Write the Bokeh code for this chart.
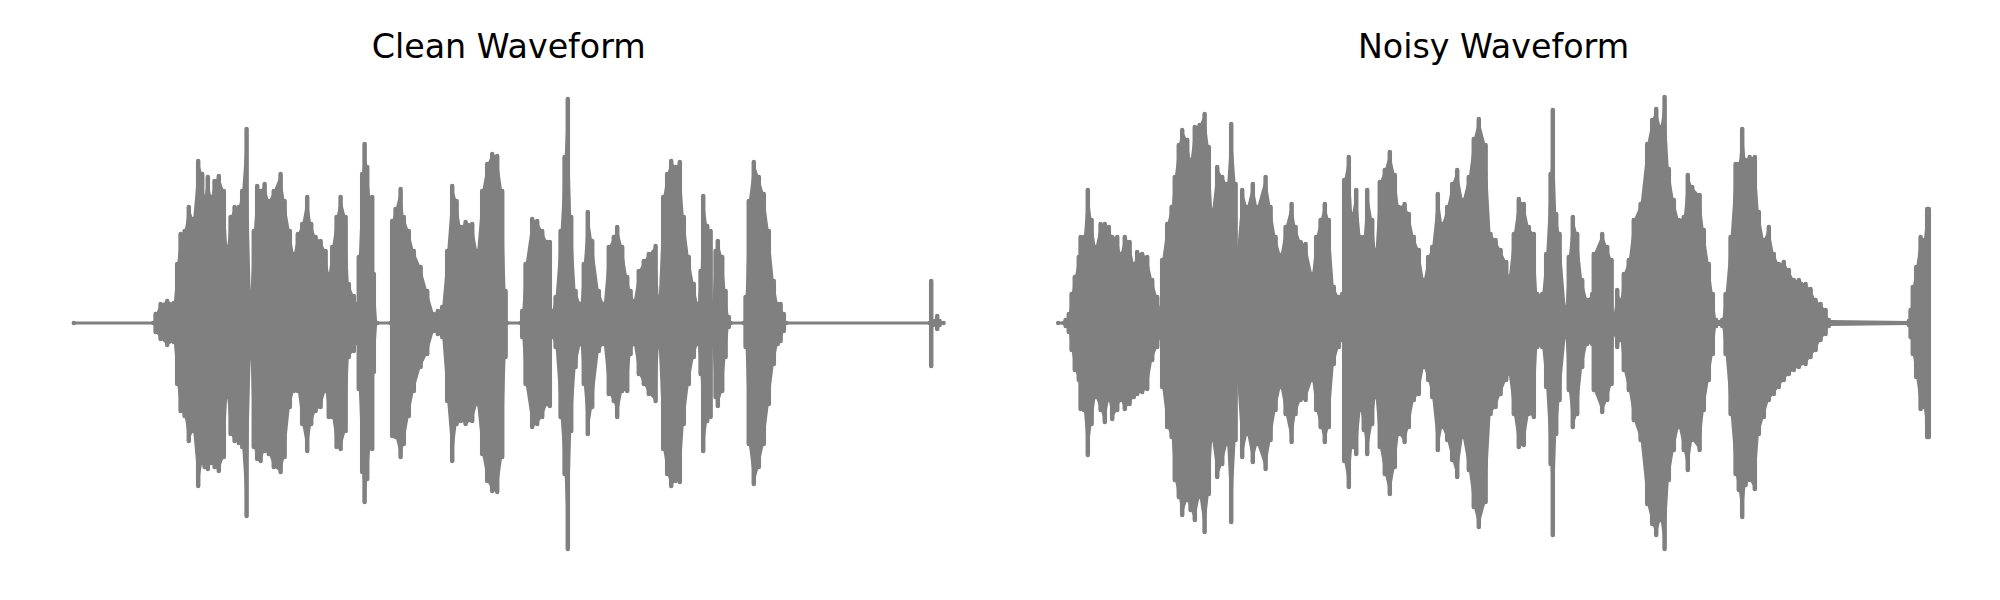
from bokeh.plotting import figure
from bokeh.layouts import row
from bokeh.models import Range1d, Label
from bokeh.embed import file_html
from bokeh.resources import INLINE

# ---------------- data: waveform envelopes (time in s, amplitude) ----------------
clean_t = [0.000, 0.397, 0.409, 0.434, 0.467, 0.500, 0.517, 0.534, 0.554, 0.575,
           0.597, 0.622, 0.642, 0.654, 0.670, 0.687, 0.704, 0.725, 0.750, 0.767,
           0.784, 0.804, 0.825, 0.842, 0.864, 0.884, 0.900, 0.917, 0.934, 0.954,
           0.975, 1.000, 1.034, 1.054, 1.080, 1.100, 1.120, 1.142, 1.167, 1.187,
           1.209, 1.234, 1.259, 1.275, 1.292, 1.314, 1.334, 1.359, 1.375, 1.400,
           1.417, 1.425, 1.442, 1.454, 1.467, 1.484, 1.492, 1.500, 1.517, 1.584,
           1.592, 1.609, 1.634, 1.650, 1.675, 1.700, 1.734, 1.767, 1.800, 1.820,
           1.842, 1.867, 1.892, 1.914, 1.934, 1.959, 1.992, 2.017, 2.042, 2.067,
           2.092, 2.117, 2.142, 2.159, 2.167, 2.234, 2.242, 2.259, 2.292, 2.317,
           2.342, 2.367, 2.380, 2.392, 2.409, 2.434, 2.454, 2.470, 2.487, 2.509,
           2.534, 2.550, 2.570, 2.592, 2.625, 2.650, 2.675, 2.700, 2.717, 2.742,
           2.767, 2.784, 2.800, 2.825, 2.850, 2.875, 2.909, 2.925, 2.947, 2.967,
           2.987, 3.009, 3.030, 3.050, 3.075, 3.100, 3.120, 3.134, 3.147, 3.167,
           3.184, 3.192, 3.209, 3.220, 3.242, 3.259, 3.275, 3.284, 3.349, 3.359,
           3.375, 3.400, 3.425, 3.450, 3.475, 3.500, 3.520, 3.534, 3.550, 3.564,
           4.280, 4.287, 4.294, 4.317, 4.329, 4.349]
clean_hi = [0, 0, 0.018, 0.038, 0.044, 0.040, 0.118, 0.178, 0.184, 0.232,
            0.208, 0.324, 0.298, 0.252, 0.292, 0.252, 0.284, 0.294, 0.264, 0.152,
            0.212, 0.232, 0.232, 0.264, 0.388, 0.064, 0.184, 0.274, 0.264, 0.278,
            0.244, 0.264, 0.298, 0.244, 0.184, 0.138, 0.178, 0.198, 0.252, 0.198,
            0.172, 0.164, 0.144, 0.098, 0.152, 0.212, 0.252, 0.212, 0.078, 0.054,
            0.038, 0.132, 0.298, 0.358, 0.312, 0.244, 0.252, 0.098, 0, 0,
            0.204, 0.228, 0.268, 0.212, 0.184, 0.144, 0.112, 0.064, 0.018, 0.024,
            0.032, 0.144, 0.274, 0.244, 0.192, 0.202, 0.198, 0.144, 0.264, 0.318,
            0.338, 0.334, 0.264, 0.064, 0, 0, 0.024, 0.118, 0.208, 0.204,
            0.184, 0.162, 0.162, 0.024, 0.052, 0.184, 0.332, 0.448, 0.212, 0.064,
            0.038, 0.118, 0.222, 0.164, 0.064, 0.038, 0.152, 0.172, 0.192, 0.152,
            0.092, 0.064, 0.044, 0.104, 0.124, 0.138, 0.154, 0.052, 0.252, 0.298,
            0.324, 0.312, 0.322, 0.212, 0.132, 0.078, 0.038, 0.104, 0.254, 0.194,
            0.184, 0.038, 0.144, 0.164, 0.132, 0.064, 0.012, 0, 0, 0.052,
            0.244, 0.322, 0.292, 0.258, 0.184, 0.084, 0.038, 0.038, 0.018, 0,
            0, 0.084, 0.004, 0.014, 0.004, 0]
clean_lo = [0, 0, -0.018, -0.032, -0.044, -0.038, -0.122, -0.176, -0.186, -0.236,
            -0.216, -0.326, -0.280, -0.288, -0.292, -0.280, -0.288, -0.296, -0.268, -0.148,
            -0.222, -0.236, -0.240, -0.248, -0.386, -0.070, -0.248, -0.272, -0.276, -0.256,
            -0.262, -0.288, -0.298, -0.268, -0.168, -0.136, -0.136, -0.202, -0.256, -0.202,
            -0.176, -0.168, -0.136, -0.188, -0.188, -0.248, -0.252, -0.216, -0.068, -0.056,
            -0.040, -0.132, -0.298, -0.358, -0.312, -0.244, -0.252, -0.098, 0, 0,
            -0.226, -0.228, -0.268, -0.242, -0.186, -0.136, -0.088, -0.062, -0.016, -0.022,
            -0.028, -0.156, -0.276, -0.202, -0.196, -0.202, -0.196, -0.162, -0.262, -0.316,
            -0.336, -0.338, -0.268, -0.068, 0, 0, -0.028, -0.122, -0.208, -0.202,
            -0.188, -0.162, -0.166, -0.028, -0.048, -0.188, -0.302, -0.452, -0.216, -0.088,
            -0.042, -0.122, -0.222, -0.168, -0.056, -0.042, -0.142, -0.156, -0.188, -0.136,
            -0.136, -0.062, -0.042, -0.102, -0.122, -0.142, -0.156, -0.048, -0.252, -0.302,
            -0.326, -0.316, -0.318, -0.202, -0.122, -0.068, -0.042, -0.102, -0.256, -0.196,
            -0.188, -0.042, -0.148, -0.166, -0.136, -0.068, -0.008, 0, 0, -0.048,
            -0.242, -0.322, -0.288, -0.242, -0.162, -0.082, -0.042, -0.036, -0.016, 0,
            0, -0.086, -0.004, -0.012, -0.004, 0]

noisy_t = [0.000, 0.037, 0.053, 0.067, 0.083, 0.103, 0.112, 0.128, 0.148, 0.167,
           0.187, 0.212, 0.233, 0.253, 0.270, 0.295, 0.312, 0.333, 0.357, 0.378,
           0.395, 0.420, 0.445, 0.470, 0.495, 0.512, 0.520, 0.545, 0.567, 0.583,
           0.603, 0.620, 0.645, 0.662, 0.683, 0.707, 0.732, 0.753, 0.770, 0.795,
           0.820, 0.845, 0.865, 0.887, 0.895, 0.920, 0.945, 0.973, 0.995, 1.037,
           1.062, 1.087, 1.112, 1.137, 1.167, 1.187, 1.212, 1.237, 1.270, 1.290,
           1.312, 1.333, 1.353, 1.378, 1.403, 1.420, 1.430, 1.453, 1.470, 1.490,
           1.512, 1.528, 1.545, 1.570, 1.587, 1.608, 1.633, 1.658, 1.683, 1.703,
           1.732, 1.753, 1.778, 1.803, 1.828, 1.850, 1.870, 1.898, 1.920, 1.945,
           1.970, 1.995, 2.023, 2.053, 2.078, 2.103, 2.137, 2.162, 2.187, 2.212,
           2.240, 2.253, 2.278, 2.303, 2.328, 2.353, 2.378, 2.395, 2.420, 2.440,
           2.462, 2.473, 2.490, 2.507, 2.537, 2.553, 2.573, 2.595, 2.620, 2.645,
           2.670, 2.678, 2.720, 2.745, 2.767, 2.778, 2.795, 2.812, 2.828, 2.853,
           2.878, 2.912, 2.945, 2.970, 2.990, 3.012, 3.032, 3.053, 3.078, 3.103,
           3.128, 3.148, 3.170, 3.207, 3.228, 3.253, 3.273, 3.290, 3.320, 3.337,
           3.362, 3.387, 3.403, 3.420, 3.437, 3.457, 3.483, 3.503, 3.528, 3.553,
           3.578, 3.603, 3.628, 3.653, 3.678, 3.703, 3.737, 3.762, 3.787, 3.812,
           3.837, 3.853, 4.253, 4.262, 4.273, 4.290, 4.312, 4.328, 4.345, 4.353]
noisy_hi = [0, 0.006, 0.018, 0.058, 0.092, 0.132, 0.172, 0.172, 0.266, 0.206,
            0.152, 0.198, 0.198, 0.192, 0.172, 0.172, 0.138, 0.172, 0.162, 0.118,
            0.142, 0.138, 0.132, 0.086, 0.052, 0.026, 0.126, 0.198, 0.232, 0.292,
            0.356, 0.386, 0.366, 0.326, 0.392, 0.396, 0.418, 0.352, 0.226, 0.312,
            0.292, 0.278, 0.398, 0.278, 0.146, 0.266, 0.232, 0.278, 0.232, 0.292,
            0.232, 0.172, 0.136, 0.192, 0.238, 0.192, 0.162, 0.158, 0.098, 0.172,
            0.206, 0.238, 0.206, 0.072, 0.052, 0.058, 0.286, 0.332, 0.218, 0.266,
            0.172, 0.172, 0.266, 0.206, 0.146, 0.282, 0.306, 0.342, 0.296, 0.232,
            0.238, 0.218, 0.172, 0.146, 0.086, 0.132, 0.152, 0.258, 0.198, 0.232,
            0.278, 0.306, 0.246, 0.292, 0.368, 0.408, 0.356, 0.178, 0.166, 0.146,
            0.122, 0.092, 0.178, 0.248, 0.238, 0.192, 0.178, 0.058, 0.058, 0.138,
            0.298, 0.426, 0.218, 0.178, 0.032, 0.132, 0.212, 0.178, 0.086, 0.046,
            0.058, 0.138, 0.178, 0.152, 0.126, 0.018, 0.066, 0.046, 0.098, 0.126,
            0.206, 0.238, 0.358, 0.406, 0.428, 0.392, 0.452, 0.308, 0.246, 0.206,
            0.212, 0.296, 0.272, 0.256, 0.186, 0.118, 0.058, 0.006, 0.006, 0.058,
            0.172, 0.318, 0.318, 0.388, 0.326, 0.332, 0.332, 0.222, 0.166, 0.192,
            0.138, 0.118, 0.122, 0.106, 0.086, 0.086, 0.078, 0.068, 0.046, 0.038,
            0.026, 0.006, 0.004, 0.026, 0.072, 0.112, 0.172, 0.166, 0.228, 0.228]
noisy_lo = [0, -0.006, -0.018, -0.054, -0.094, -0.114, -0.172, -0.174, -0.264, -0.202,
            -0.148, -0.174, -0.198, -0.154, -0.192, -0.174, -0.154, -0.172, -0.162, -0.148,
            -0.142, -0.138, -0.132, -0.074, -0.048, -0.028, -0.128, -0.208, -0.228, -0.314,
            -0.348, -0.384, -0.354, -0.374, -0.394, -0.348, -0.418, -0.342, -0.234, -0.308,
            -0.282, -0.242, -0.398, -0.234, -0.114, -0.268, -0.222, -0.278, -0.242, -0.292,
            -0.234, -0.174, -0.128, -0.182, -0.238, -0.182, -0.154, -0.154, -0.114, -0.174,
            -0.208, -0.238, -0.208, -0.082, -0.048, -0.034, -0.276, -0.328, -0.248, -0.262,
            -0.174, -0.214, -0.262, -0.202, -0.148, -0.248, -0.302, -0.342, -0.288, -0.222,
            -0.238, -0.208, -0.154, -0.142, -0.088, -0.114, -0.148, -0.254, -0.208, -0.234,
            -0.274, -0.308, -0.228, -0.294, -0.368, -0.408, -0.358, -0.182, -0.168, -0.142,
            -0.114, -0.102, -0.182, -0.248, -0.244, -0.182, -0.188, -0.048, -0.048, -0.128,
            -0.282, -0.424, -0.222, -0.154, -0.028, -0.134, -0.208, -0.182, -0.088, -0.042,
            -0.042, -0.134, -0.178, -0.154, -0.122, -0.022, -0.048, -0.034, -0.094, -0.134,
            -0.194, -0.234, -0.362, -0.402, -0.424, -0.394, -0.452, -0.314, -0.254, -0.208,
            -0.254, -0.294, -0.234, -0.254, -0.174, -0.114, -0.062, -0.006, -0.006, -0.062,
            -0.182, -0.302, -0.334, -0.388, -0.324, -0.314, -0.332, -0.222, -0.188, -0.154,
            -0.142, -0.128, -0.114, -0.102, -0.094, -0.088, -0.082, -0.068, -0.054, -0.034,
            -0.022, -0.006, -0.004, -0.028, -0.062, -0.108, -0.172, -0.168, -0.228, -0.228]

titles = ["Clean Waveform", "Noisy Waveform"]

COLOR = "#808080"


def make_panel(t, hi, lo, title, xr, width):
    p = figure(width=width, height=584, output_backend="svg", toolbar_location=None,
               x_range=Range1d(*xr), y_range=Range1d(-0.523, 0.645),
               x_axis_location=None, y_axis_location=None, min_border=0)
    p.grid.visible = False
    p.outline_line_color = None
    p.background_fill_color = "white"
    p.border_fill_color = "white"
    # body of the waveform
    p.varea(x=t, y1=lo, y2=hi, fill_color=COLOR)
    # baseline (silent parts)
    p.line([t[0], t[-1]], [0, 0], line_color=COLOR, line_width=3.2, line_cap="round")
    # the individual oscillation strokes
    p.segment(x0=t, y0=lo, x1=t, y1=hi, line_color=COLOR, line_width=4.5, line_cap="round")
    p.add_layout(Label(x=(t[0] + t[-1]) / 2, y=0.553, text=title,
                       text_font="DejaVu Sans", text_font_size="33.3px",
                       text_align="center", text_baseline="middle", text_color="black"))
    return p


p1 = make_panel(clean_t, clean_hi, clean_lo, titles[0], (-0.3665, 4.5935), 992)
p2 = make_panel(noisy_t, noisy_hi, noisy_lo, titles[1], (-0.3285, 4.6315), 992)

layout = row(p1, p2)
open("out.html", "w").write(file_html(layout, INLINE))
